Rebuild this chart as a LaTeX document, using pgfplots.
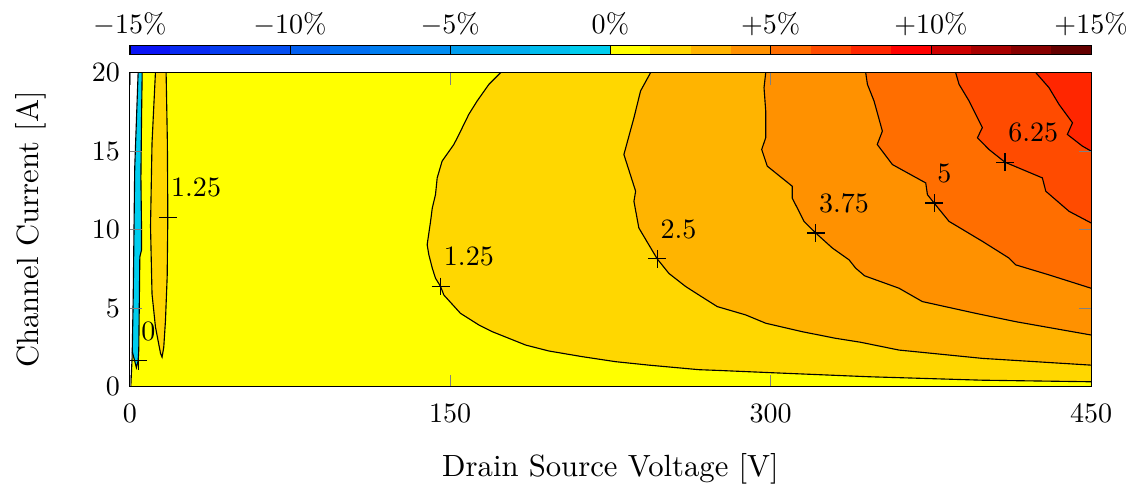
\documentclass[border=0pt]{standalone}
\usepackage{pgfplots}
\pgfplotsset{compat=1.18}
\definecolor{cn1}{RGB}{10,20,245}
\definecolor{cn2}{RGB}{8,42,242}
\definecolor{cn3}{RGB}{6,60,240}
\definecolor{cn4}{RGB}{4,78,240}
\definecolor{cn5}{RGB}{2,95,240}
\definecolor{cn6}{RGB}{0,110,240}
\definecolor{cn7}{RGB}{0,125,240}
\definecolor{cn8}{RGB}{0,140,240}
\definecolor{cn9}{RGB}{0,157,238}
\definecolor{cn10}{RGB}{0,172,238}
\definecolor{cn11}{RGB}{0,188,238}
\definecolor{cn12}{RGB}{0,205,238}
\definecolor{cp1}{RGB}{255,255,0}
\definecolor{cp2}{RGB}{255,215,0}
\definecolor{cp3}{RGB}{255,180,0}
\definecolor{cp4}{RGB}{255,145,0}
\definecolor{cp5}{RGB}{255,110,0}
\definecolor{cp6}{RGB}{255,75,0}
\definecolor{cp7}{RGB}{255,38,0}
\definecolor{cp8}{RGB}{255,0,0}
\definecolor{cp9}{RGB}{205,0,0}
\definecolor{cp10}{RGB}{168,0,0}
\definecolor{cp11}{RGB}{135,0,0}
\definecolor{cp12}{RGB}{100,0,0}
\begin{document}
\begin{tikzpicture}
\begin{axis}[name=main, scale only axis, width=343pt, height=112pt,
  xmin=0, xmax=450, ymin=0, ymax=20,
  xtick={0,150,300,450}, ytick={0,5,10,15,20},
  axis on top, axis background/.style={fill=cp1},
  xlabel={Drain Source Voltage [V]}, ylabel={Channel Current [A]},
  label style={font=\fontsize{10.95}{13.6}\selectfont},
  ylabel style={inner ysep=5.4pt},
  xticklabel style={yshift=-2.7pt},
  xlabel style={at={(axis description cs:0.5,0)}, anchor=north, yshift=-20.5pt},
  ylabel shift=7.5pt]
% region >= 1.25
\addplot[fill=cp2, draw=none] coordinates {(173.6,20)(168.1,19.25)(162.6,18.19)(158.7,17.34)(154.1,16.06)(151.7,15.42)(146.2,14.36)(143.9,13.29)(143.1,12.22)(141.6,11.37)(140.8,10.52)(139.2,9.03)(140.0,8.39)(141.6,7.54)(143.1,6.90)(145.5,6.37)(147.0,5.83)(154.8,4.66)(163.4,3.92)(169.7,3.49)(185.3,2.64)(196.2,2.26)(211.8,1.90)(227.4,1.58)(243,1.36)(266.4,1.07)(276,1.02)(300,0.88)(346,0.62)(399,0.40)(450,0.30)(450,20)} -- cycle;
% region >= 2.5
\addplot[fill=cp3, draw=none] coordinates {(243.8,20)(239.1,18.83)(236,17.12)(231.3,14.78)(236.8,12.44)(236,11.8)(238.3,10.1)(246.9,8.13)(252.4,7.2)(260.2,6.37)(266.4,5.83)(275,5.09)(288.3,4.56)(297.7,4.03)(314.8,3.49)(330.4,3.07)(342,2.82)(360.1,2.32)(399.1,1.79)(450,1.36)(450,20)} -- cycle;
% region >= 3.75
\addplot[fill=cp4, draw=none] coordinates {(297.7,20)(296.9,19.04)(297.7,17.55)(297.7,15.85)(295.8,15.1)(298.4,14.04)(310.1,12.76)(310.1,12.01)(315.6,10.52)(321.1,9.78)(328.9,8.82)(336.7,8.07)(339.8,7.54)(344,7.05)(360.1,6.26)(371,5.41)(396,4.66)(414.7,4.13)(450,3.28)(450,20)} -- cycle;
% region >= 5
\addplot[fill=cp5, draw=none] coordinates {(344.5,20)(345.3,19.25)(348.4,18.19)(352.3,16.27)(349.9,15.42)(357,14.14)(372.6,12.97)(373.4,12.22)(376.5,11.69)(383.5,10.52)(399.1,9.25)(411.6,8.18)(414.7,7.75)(430.3,7.11)(450,6.26)(450,20)} -- cycle;
% region >= 6.25
\addplot[fill=cp6, draw=none] coordinates {(386.6,20)(388.2,19.25)(392.9,18.19)(399.1,16.49)(396.8,15.85)(402.2,15.1)(409.7,14.29)(427.2,13.29)(428.8,12.44)(439.7,11.16)(450,10.42)(450,20)} -- cycle;
% region >= 7.5
\addplot[fill=cp7, draw=none] coordinates {(424.1,20)(430.3,19.04)(435,17.97)(441.3,16.8)(438.9,16.06)(445.9,15.32)(450,15.0)(450,20)} -- cycle;
% island >= 1.25
\addplot[fill=cp2, draw=black] coordinates {(12.0,20)(10.4,15.5)(9.7,10.2)(10.4,5.9)(12.0,3.8)(14.4,2.1)(15.1,1.87)(15.9,2.5)(16.7,4.2)(17.5,7.0)(17.8,10.8)(17.6,15.5)(17.0,20)};
% region < 0
\addplot[fill=cn12, draw=none] coordinates {(3.9,20)(5.8,20)(5.5,17.1)(5.2,13.3)(5.5,9.97)(5.5,8.7)(4.7,8.26)(4.2,2.3)(3.9,1.63)(3.1,1.2)(1.2,2.2)(1.6,5.7)(2.3,13.9)} -- cycle;
% no data
\addplot[fill=white, draw=none] coordinates {(0,0)(0.47,0)(1.1,1.9)(1.6,5.7)(2.3,13.9)(3.9,20)(0,20)} -- cycle;
% contour lines
\addplot[black, thin] coordinates {(0.47,0)(1.1,1.9)(1.6,5.7)(2.3,13.9)(3.9,20)};
\addplot[black, thin] coordinates {(5.8,20)(5.5,17.1)(5.2,13.3)(5.5,9.97)(5.5,8.7)(4.7,8.26)(4.2,2.3)(3.9,1.63)(3.1,1.2)(1.2,2.2)};
\addplot[black, thin] coordinates {(173.6,20)(168.1,19.25)(162.6,18.19)(158.7,17.34)(154.1,16.06)(151.7,15.42)(146.2,14.36)(143.9,13.29)(143.1,12.22)(141.6,11.37)(140.8,10.52)(139.2,9.03)(140.0,8.39)(141.6,7.54)(143.1,6.90)(145.5,6.37)(147.0,5.83)(154.8,4.66)(163.4,3.92)(169.7,3.49)(185.3,2.64)(196.2,2.26)(211.8,1.90)(227.4,1.58)(243,1.36)(266.4,1.07)(276,1.02)(300,0.88)(346,0.62)(399,0.40)(450,0.30)};
\addplot[black, thin] coordinates {(243.8,20)(239.1,18.83)(236,17.12)(231.3,14.78)(236.8,12.44)(236,11.8)(238.3,10.1)(246.9,8.13)(252.4,7.2)(260.2,6.37)(266.4,5.83)(275,5.09)(288.3,4.56)(297.7,4.03)(314.8,3.49)(330.4,3.07)(342,2.82)(360.1,2.32)(399.1,1.79)(450,1.36)};
\addplot[black, thin] coordinates {(297.7,20)(296.9,19.04)(297.7,17.55)(297.7,15.85)(295.8,15.1)(298.4,14.04)(310.1,12.76)(310.1,12.01)(315.6,10.52)(321.1,9.78)(328.9,8.82)(336.7,8.07)(339.8,7.54)(344,7.05)(360.1,6.26)(371,5.41)(396,4.66)(414.7,4.13)(450,3.28)};
\addplot[black, thin] coordinates {(344.5,20)(345.3,19.25)(348.4,18.19)(352.3,16.27)(349.9,15.42)(357,14.14)(372.6,12.97)(373.4,12.22)(376.5,11.69)(383.5,10.52)(399.1,9.25)(411.6,8.18)(414.7,7.75)(430.3,7.11)(450,6.26)};
\addplot[black, thin] coordinates {(386.6,20)(388.2,19.25)(392.9,18.19)(399.1,16.49)(396.8,15.85)(402.2,15.1)(409.7,14.29)(427.2,13.29)(428.8,12.44)(439.7,11.16)(450,10.42)};
\addplot[black, thin] coordinates {(424.1,20)(430.3,19.04)(435,17.97)(441.3,16.8)(438.9,16.06)(445.9,15.32)(450,15.0)};
% labelled markers
\addplot[only marks, mark=+, mark size=3.2pt, black, nodes near coords, point meta=explicit symbolic,
  every node near coord/.append style={anchor=south west, inner sep=0pt, xshift=1pt, yshift=7pt, black}]
  table[meta=lab] {
x y lab
3.9 1.63 0
17.8 10.78 1.25
145.5 6.37 1.25
246.9 8.13 2.5
321.1 9.78 3.75
376.5 11.69 5
409.7 14.29 6.25
};
\end{axis}
\begin{axis}[at={(0pt,118.4pt)}, anchor=south west, scale only axis,
  width=343pt, height=3.3pt, xmin=-15, xmax=15, ymin=0, ymax=1,
  ytick=\empty, xtick={-15,-10,-5,0,5,10,15},
  xticklabels={$-15\%$,$-10\%$,$-5\%$,$0\%$,$+5\%$,$+10\%$,$+15\%$},
  xticklabel pos=upper, axis on top, major tick length=3.3pt,
  tick style={black}]
\addplot[fill=cn1, draw=none] coordinates {(-15,0)(-13.75,0)(-13.75,1)(-15,1)} -- cycle;
\addplot[fill=cn2, draw=none] coordinates {(-13.75,0)(-12.5,0)(-12.5,1)(-13.75,1)} -- cycle;
\addplot[fill=cn3, draw=none] coordinates {(-12.5,0)(-11.25,0)(-11.25,1)(-12.5,1)} -- cycle;
\addplot[fill=cn4, draw=none] coordinates {(-11.25,0)(-10,0)(-10,1)(-11.25,1)} -- cycle;
\addplot[fill=cn5, draw=none] coordinates {(-10,0)(-8.75,0)(-8.75,1)(-10,1)} -- cycle;
\addplot[fill=cn6, draw=none] coordinates {(-8.75,0)(-7.5,0)(-7.5,1)(-8.75,1)} -- cycle;
\addplot[fill=cn7, draw=none] coordinates {(-7.5,0)(-6.25,0)(-6.25,1)(-7.5,1)} -- cycle;
\addplot[fill=cn8, draw=none] coordinates {(-6.25,0)(-5,0)(-5,1)(-6.25,1)} -- cycle;
\addplot[fill=cn9, draw=none] coordinates {(-5,0)(-3.75,0)(-3.75,1)(-5,1)} -- cycle;
\addplot[fill=cn10, draw=none] coordinates {(-3.75,0)(-2.5,0)(-2.5,1)(-3.75,1)} -- cycle;
\addplot[fill=cn11, draw=none] coordinates {(-2.5,0)(-1.25,0)(-1.25,1)(-2.5,1)} -- cycle;
\addplot[fill=cn12, draw=none] coordinates {(-1.25,0)(0,0)(0,1)(-1.25,1)} -- cycle;
\addplot[fill=cp1, draw=none] coordinates {(0,0)(1.25,0)(1.25,1)(0,1)} -- cycle;
\addplot[fill=cp2, draw=none] coordinates {(1.25,0)(2.5,0)(2.5,1)(1.25,1)} -- cycle;
\addplot[fill=cp3, draw=none] coordinates {(2.5,0)(3.75,0)(3.75,1)(2.5,1)} -- cycle;
\addplot[fill=cp4, draw=none] coordinates {(3.75,0)(5,0)(5,1)(3.75,1)} -- cycle;
\addplot[fill=cp5, draw=none] coordinates {(5,0)(6.25,0)(6.25,1)(5,1)} -- cycle;
\addplot[fill=cp6, draw=none] coordinates {(6.25,0)(7.5,0)(7.5,1)(6.25,1)} -- cycle;
\addplot[fill=cp7, draw=none] coordinates {(7.5,0)(8.75,0)(8.75,1)(7.5,1)} -- cycle;
\addplot[fill=cp8, draw=none] coordinates {(8.75,0)(10,0)(10,1)(8.75,1)} -- cycle;
\addplot[fill=cp9, draw=none] coordinates {(10,0)(11.25,0)(11.25,1)(10,1)} -- cycle;
\addplot[fill=cp10, draw=none] coordinates {(11.25,0)(12.5,0)(12.5,1)(11.25,1)} -- cycle;
\addplot[fill=cp11, draw=none] coordinates {(12.5,0)(13.75,0)(13.75,1)(12.5,1)} -- cycle;
\addplot[fill=cp12, draw=none] coordinates {(13.75,0)(15,0)(15,1)(13.75,1)} -- cycle;
\end{axis}
\path (current bounding box.north) ++(0,1pt);
\end{tikzpicture}
\end{document}
